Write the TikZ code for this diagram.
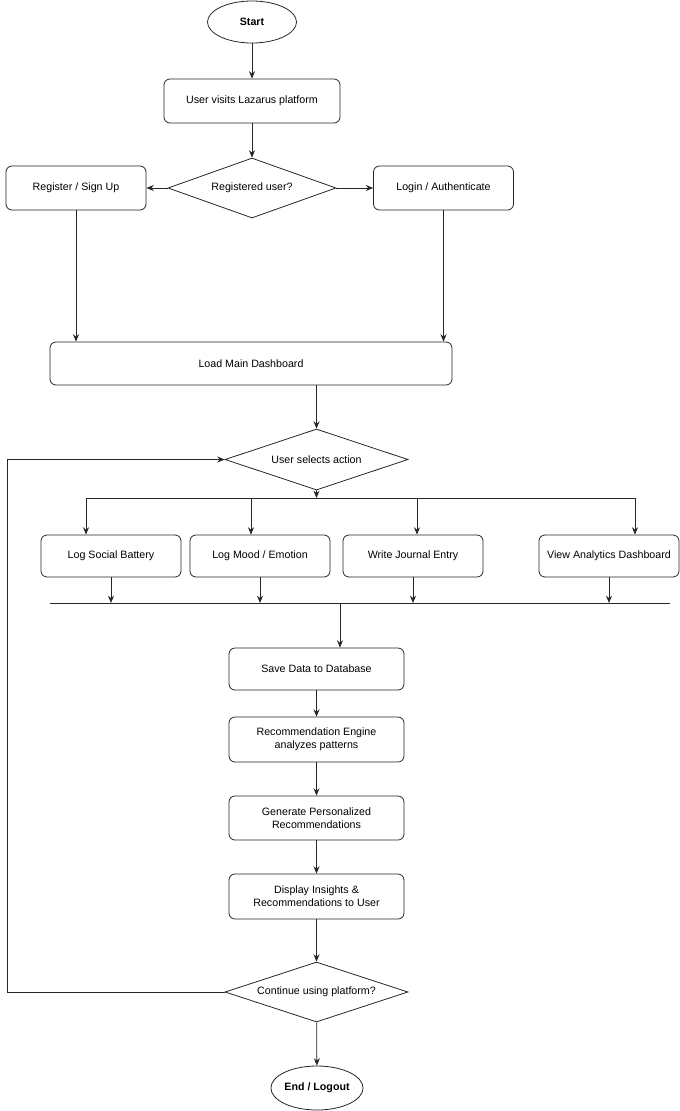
\documentclass[tikz,border=0pt]{standalone}
\usepackage{fontspec}
\setmainfont{Liberation Sans}
\usetikzlibrary{shapes.geometric,arrows.meta}

\tikzset{
    term/.style={ellipse, draw, inner sep=0pt, font=\fontsize{8}{9.6}\selectfont\bfseries},
    proc/.style={rectangle, draw, rounded corners=4.5pt, align=center, inner sep=0pt, font=\fontsize{8}{9.6}\selectfont},
    choice/.style={diamond, draw, aspect=2.8, inner sep=0pt, font=\fontsize{8}{9.6}\selectfont},
    flow/.style={-{Stealth[length=5.5pt,width=4.5pt]}},
}

\begin{document}
\begin{tikzpicture}[x=0.75pt, y=-0.75pt, line width=0.6pt, draw=black!85]
        \useasboundingbox (0,0) rectangle (680,1111);

        \node[term, minimum width=66.75pt, minimum height=31.5pt] (start) at (252,22) {Start};
        \node[proc, minimum width=132pt, minimum height=33pt] (visit) at (252,101) {User visits Lazarus platform};
        \node[choice, minimum width=126pt, minimum height=45pt] (reg) at (252,188) {Registered user?};
        \node[proc, minimum width=105pt, minimum height=33pt] (signup) at (76,188) {Register / Sign Up};
        \node[proc, minimum width=105pt, minimum height=33pt] (login) at (443.5,188) {Login / Authenticate};
        \node[proc, minimum width=301.5pt, minimum height=32.25pt] (dash) at (251,363.5) {Load Main Dashboard};
        \node[choice, minimum width=137.25pt, minimum height=45.75pt] (select) at (316.5,459.5) {User selects action};

        \node[proc, minimum width=105pt, minimum height=31.5pt] (social) at (111,556) {Log Social Battery};
        \node[proc, minimum width=105pt, minimum height=31.5pt] (mood) at (260,556) {Log Mood / Emotion};
        \node[proc, minimum width=105pt, minimum height=31.5pt] (journal) at (413,556) {Write Journal Entry};
        \node[proc, minimum width=105pt, minimum height=31.5pt] (analytics) at (609,556) {View Analytics Dashboard};

        \node[proc, minimum width=131.25pt, minimum height=31.5pt] (save) at (316.5,669) {Save Data to Database};
        \node[proc, minimum width=131.25pt, minimum height=33.75pt] (engine) at (316.5,739.5) {Recommendation Engine\\analyzes patterns};
        \node[proc, minimum width=131.25pt, minimum height=33pt] (generate) at (316.5,818) {Generate Personalized\\Recommendations};
        \node[proc, minimum width=131.25pt, minimum height=33.75pt] (display) at (316.5,896.5) {Display Insights \&\\Recommendations to User};
        \node[choice, minimum width=137.25pt, minimum height=45pt] (cont) at (316.5,992) {Continue using platform?};
        \node[term, minimum width=66pt, minimum height=33pt] (finish) at (317,1088) {End / Logout};

        \coordinate (fork) at (316.5,498);
        \coordinate (forkL) at (86,498);
        \coordinate (forkM) at (251,498);
        \coordinate (forkN) at (417,498);
        \coordinate (forkR) at (635,498);
        \coordinate (busL) at (50,603);
        \coordinate (busR) at (670,603);
        \coordinate (merge) at (340,603);
        \coordinate (loopB) at (7,992);
        \coordinate (loopT) at (7,459.5);

        \draw[flow] (start) -- (visit);
        \draw[flow] (visit) -- (reg);
        \draw[flow] (reg) -- (signup);
        \draw[flow] (reg) -- (login);
        \draw[flow] (signup.south) -- (signup.south |- dash.north);
        \draw[flow] (login.south) -- (login.south |- dash.north);
        \draw[flow] (dash.south -| select) -- (select);

        \draw[flow] (select) -- (fork);
        \draw (forkL) -- (forkR);
        \draw[flow] (forkL) -- (forkL |- social.north);
        \draw[flow] (forkM) -- (forkM |- mood.north);
        \draw[flow] (forkN) -- (forkN |- journal.north);
        \draw[flow] (forkR) -- (forkR |- analytics.north);

        \draw (busL) -- (busR);
        \draw[flow] (social.south) -- (social.south |- busL);
        \draw[flow] (mood.south) -- (mood.south |- busL);
        \draw[flow] (journal.south) -- (journal.south |- busL);
        \draw[flow] (analytics.south) -- (analytics.south |- busL);
        \draw[flow] (merge) -- (merge |- save.north);

        \draw[flow] (save) -- (engine);
        \draw[flow] (engine) -- (generate);
        \draw[flow] (generate) -- (display);
        \draw[flow] (display) -- (cont);
        \draw[flow] (cont) -- (finish);
        \draw[flow] (cont.west) -- (loopB) -- (loopT) -- (select.west);
\end{tikzpicture}
\end{document}
